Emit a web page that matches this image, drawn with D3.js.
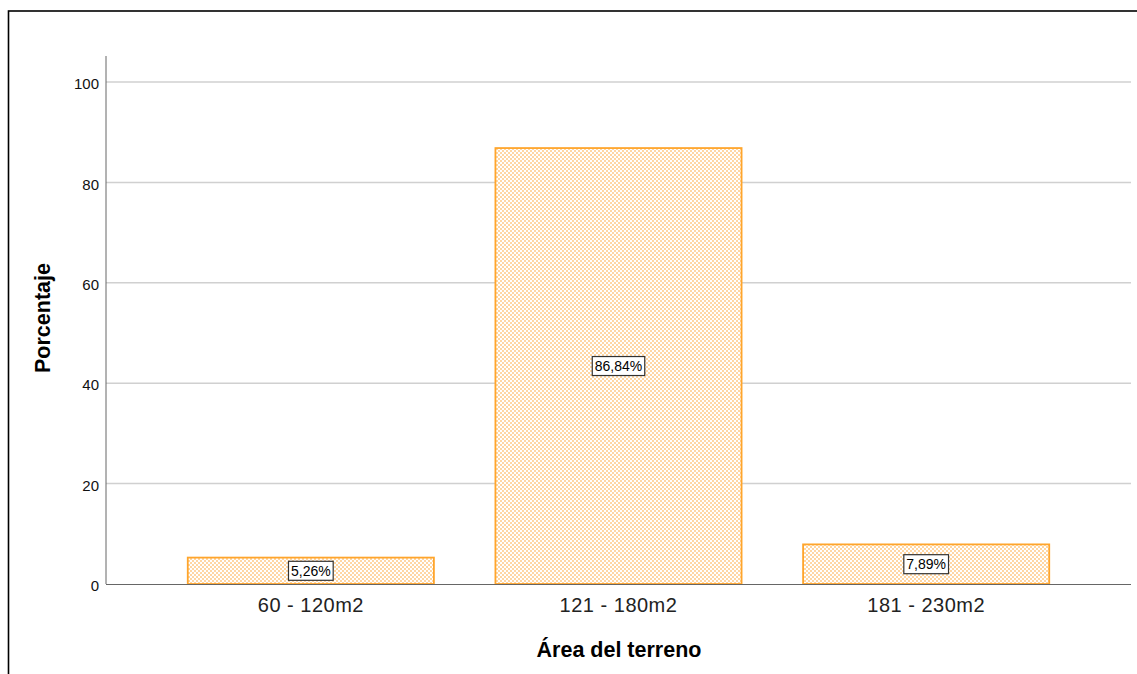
<!DOCTYPE html>
<html><head><meta charset="utf-8">
<script src="https://cdn.jsdelivr.net/npm/d3@7"></script>
<style>body{margin:0;background:#fff;}svg{display:block;font-family:"Liberation Sans",Arial,sans-serif;}</style>
</head><body>
<svg id="c" width="1137" height="674"></svg>
<script>
const categories = ["60 - 120m2", "121 - 180m2", "181 - 230m2"];
const values = [5.26, 86.84, 7.89];
const valueLabels = ["5,26%", "86,84%", "7,89%"];
const yTicks = [0, 20, 40, 60, 80, 100];

const svg = d3.select("#c");
const FF = "Liberation Sans, Arial, sans-serif";
// outer frame
svg.append("rect").attr("x", 8.5).attr("y", 11).attr("width", 1140).attr("height", 680)
  .attr("fill", "none").attr("stroke", "#000").attr("stroke-width", 1.6);

const defs = svg.append("defs");
const pat = defs.append("pattern").attr("id", "dots").attr("patternUnits", "userSpaceOnUse")
  .attr("width", 4).attr("height", 4);
pat.append("rect").attr("width", 4).attr("height", 4).attr("fill", "#fff");
pat.append("rect").attr("x", 0).attr("y", 0).attr("width", 2).attr("height", 2).attr("fill", "#ffd6a3");
pat.append("rect").attr("x", 2).attr("y", 2).attr("width", 2).attr("height", 2).attr("fill", "#ffd6a3");

const y = d3.scaleLinear().domain([0, 100]).range([584, 82]);
const x = d3.scaleBand().domain(categories).range([157, 1080]).paddingInner(0.2).paddingOuter(0.1);
const axisLeft = 106, axisRight = 1131;

// grid
svg.append("g").selectAll("line").data(yTicks.filter(d => d > 0)).join("line")
  .attr("x1", axisLeft).attr("x2", axisRight).attr("y1", d => y(d)).attr("y2", d => y(d))
  .attr("stroke", "#d0d0d0").attr("stroke-width", 1.5);

// y axis
const ya = svg.append("g").attr("transform", `translate(${axisLeft},0)`)
  .call(d3.axisLeft(y).tickValues(yTicks).tickSize(0).tickPadding(7));
ya.select(".domain").remove();
ya.selectAll("text").attr("font-size", 15).attr("fill", "#111").attr("font-family", FF).attr("dy", "0.45em");
svg.append("line").attr("x1", axisLeft).attr("x2", axisLeft).attr("y1", 56).attr("y2", 584)
  .attr("stroke", "#666").attr("stroke-width", 1);

// bars
svg.append("g").selectAll("rect").data(values).join("rect")
  .attr("x", (d, i) => x(categories[i])).attr("width", x.bandwidth())
  .attr("y", d => y(d)).attr("height", d => y(0) - y(d))
  .attr("fill", "url(#dots)").attr("stroke", "#ffa52c").attr("stroke-width", 1.8);

// x axis line
svg.append("line").attr("x1", axisLeft).attr("x2", axisRight).attr("y1", 584.5).attr("y2", 584.5)
  .attr("stroke", "#666").attr("stroke-width", 1);

// x axis labels
const xa = svg.append("g").attr("transform", "translate(0,584)")
  .call(d3.axisBottom(x).tickSize(0).tickPadding(0));
xa.select(".domain").remove();
xa.selectAll("text").attr("font-size", 20).attr("fill", "#222").attr("font-family", FF)
  .attr("letter-spacing", "0.5px").attr("dy", null).attr("y", 27.5);

// value labels
const lg = svg.append("g").selectAll("g").data(values).join("g")
  .attr("transform", (d, i) => `translate(${x(categories[i]) + x.bandwidth() / 2},${(y(d) + y(0)) / 2})`);
lg.each(function(d, i) {
  const g = d3.select(this);
  const t = g.append("text").attr("text-anchor", "middle").attr("dy", "0.36em")
    .attr("font-size", 14).attr("fill", "#000").attr("font-family", FF).text(valueLabels[i]);
  const bb = t.node().getBBox();
  g.insert("rect", "text").attr("x", bb.x - 2.5).attr("y", -9.5).attr("width", bb.width + 5).attr("height", 19)
    .attr("fill", "#fff").attr("stroke", "#333").attr("stroke-width", 1.2);
});

// axis titles
svg.append("text").attr("x", 619).attr("y", 657).attr("text-anchor", "middle")
  .attr("font-size", 21.5).attr("font-weight", "bold").attr("fill", "#000").attr("font-family", FF).text("Área del terreno");
svg.append("text").attr("transform", "translate(50,318) rotate(-90)").attr("text-anchor", "middle")
  .attr("font-size", 21.5).attr("font-weight", "bold").attr("fill", "#000").attr("font-family", FF).text("Porcentaje");
</script>
</body></html>
